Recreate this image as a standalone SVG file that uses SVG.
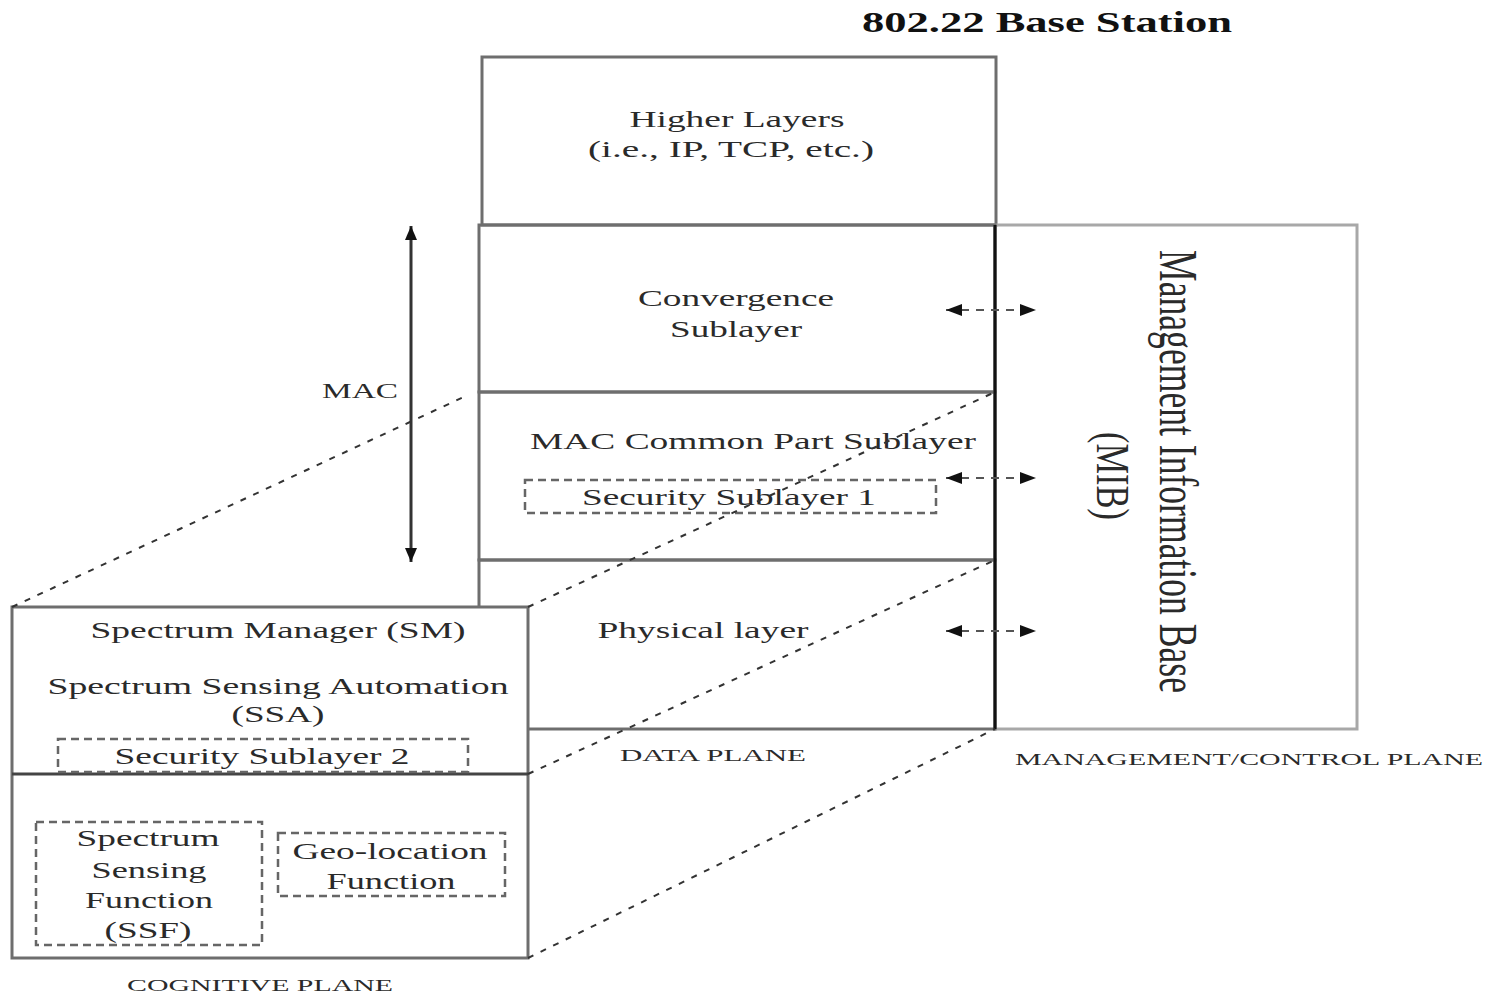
<svg xmlns="http://www.w3.org/2000/svg" width="1489" height="995" viewBox="0 0 1489 995">
<defs>
<style>
.t{font-family:"Liberation Serif","Times New Roman",serif;font-size:24px;fill:#2a2a2a;text-anchor:middle}
.s{font-size:17px}
.box{fill:none;stroke:#6e6e6e;stroke-width:3}
.lbox{fill:none;stroke:#a8a8a8;stroke-width:3}
.dbox{fill:none;stroke:#666;stroke-width:2.5;stroke-dasharray:8 5}
.diag{fill:none;stroke:#333;stroke-width:2;stroke-dasharray:6 8}
.dar{fill:none;stroke:#555;stroke-width:2;stroke-dasharray:8 7;marker-start:url(#ah);marker-end:url(#ah)}
</style>
<marker id="ah" viewBox="0 0 16 12" refX="16" refY="6" markerWidth="16" markerHeight="12" markerUnits="userSpaceOnUse" orient="auto-start-reverse">
<path d="M0,0 L16,6 L0,12 z" fill="#111"/>
</marker>
<marker id="ah2" viewBox="0 0 14 12" refX="14" refY="6" markerWidth="14" markerHeight="12" markerUnits="userSpaceOnUse" orient="auto-start-reverse">
<path d="M0,0 L14,6 L0,12 z" fill="#111"/>
</marker>
</defs>
<rect width="1489" height="995" fill="#fff"/>

<text class="t" x="1047" y="32" style="font-size:30px;font-weight:bold;fill:#111" textLength="370" lengthAdjust="spacingAndGlyphs">802.22 Base Station</text>

<g id="higher-layers">
<rect class="box" x="482" y="57" width="514" height="168"/>
<text class="t" x="737" y="127" textLength="215" lengthAdjust="spacingAndGlyphs">Higher Layers</text>
<text class="t" x="731" y="157" textLength="286" lengthAdjust="spacingAndGlyphs">(i.e., IP, TCP, etc.)</text>
</g>

<g id="mib">
<rect class="lbox" x="995" y="225" width="362" height="504"/>
<text class="t" transform="translate(1160,250) rotate(90)" x="0" y="0" style="font-size:54px;text-anchor:start" textLength="443" lengthAdjust="spacingAndGlyphs">Management Information Base</text>
<text class="t" transform="translate(1097,432) rotate(90)" x="0" y="0" style="font-size:46px;text-anchor:start" textLength="88" lengthAdjust="spacingAndGlyphs">(MIB)</text>
</g>

<g id="convergence">
<rect class="box" x="479" y="225" width="516" height="167"/>
<text class="t" x="736" y="306" textLength="196" lengthAdjust="spacingAndGlyphs">Convergence</text>
<text class="t" x="736" y="337" textLength="132" lengthAdjust="spacingAndGlyphs">Sublayer</text>
</g>

<g id="mac-cps">
<rect class="box" x="479" y="392" width="516" height="168"/>
<text class="t" x="753" y="449" textLength="446" lengthAdjust="spacingAndGlyphs">MAC Common Part Sublayer</text>
</g>

<g id="security-1">
<rect class="dbox" x="525" y="480" width="411" height="33"/>
<text class="t" x="729" y="505" textLength="294" lengthAdjust="spacingAndGlyphs">Security Sublayer 1</text>
</g>

<g id="physical">
<rect class="box" x="479" y="560" width="516" height="169"/>
<text class="t" x="703" y="638" textLength="211" lengthAdjust="spacingAndGlyphs">Physical layer</text>
</g>

<line x1="995" y1="225" x2="995" y2="729" stroke="#111" stroke-width="3"/>

<g id="mac-label">
<text class="t" x="360" y="398" style="font-size:22px" textLength="76" lengthAdjust="spacingAndGlyphs">MAC</text>
</g>

<g id="cognitive">
<rect class="box" x="12" y="607" width="516" height="351" style="fill:#fff"/>
<line x1="12" y1="774" x2="528" y2="774" stroke="#444" stroke-width="3"/>
<text class="t" x="278" y="638" textLength="375" lengthAdjust="spacingAndGlyphs">Spectrum Manager (SM)</text>
<text class="t" x="278" y="694" textLength="461" lengthAdjust="spacingAndGlyphs">Spectrum Sensing Automation</text>
<text class="t" x="278" y="722" textLength="93" lengthAdjust="spacingAndGlyphs">(SSA)</text>
</g>

<g id="security-2">
<rect class="dbox" x="58" y="739" width="410" height="33"/>
<text class="t" x="262" y="764" textLength="295" lengthAdjust="spacingAndGlyphs">Security Sublayer 2</text>
</g>

<g id="ssf">
<rect class="dbox" x="36" y="822" width="226" height="123"/>
<text class="t" x="148" y="846" textLength="143" lengthAdjust="spacingAndGlyphs">Spectrum</text>
<text class="t" x="149" y="878" textLength="115" lengthAdjust="spacingAndGlyphs">Sensing</text>
<text class="t" x="149" y="908" textLength="128" lengthAdjust="spacingAndGlyphs">Function</text>
<text class="t" x="148" y="938" textLength="87" lengthAdjust="spacingAndGlyphs">(SSF)</text>
</g>

<g id="geo">
<rect class="dbox" x="278" y="833" width="227" height="63"/>
<text class="t" x="390" y="859" textLength="195" lengthAdjust="spacingAndGlyphs">Geo-location</text>
<text class="t" x="391" y="889" textLength="129" lengthAdjust="spacingAndGlyphs">Function</text>
</g>

<g id="plane-labels">
<text class="t s" x="260" y="991" textLength="266" lengthAdjust="spacingAndGlyphs">COGNITIVE PLANE</text>
<text class="t s" x="713" y="761" textLength="186" lengthAdjust="spacingAndGlyphs">DATA PLANE</text>
<text class="t s" x="1249" y="765" textLength="468" lengthAdjust="spacingAndGlyphs">MANAGEMENT/CONTROL PLANE</text>
</g>

<g id="connectors">
<line class="diag" x1="12" y1="607" x2="468" y2="395"/>
<line class="diag" x1="528" y1="607" x2="995" y2="392"/>
<line class="diag" x1="528" y1="774" x2="995" y2="560"/>
<line class="diag" x1="528" y1="958" x2="995" y2="729"/>
<line class="dar" x1="946" y1="310" x2="1036" y2="310"/>
<line class="dar" x1="946" y1="478" x2="1036" y2="478"/>
<line class="dar" x1="946" y1="631" x2="1036" y2="631"/>
<line x1="411" y1="226" x2="411" y2="562" stroke="#333" stroke-width="3" marker-start="url(#ah2)" marker-end="url(#ah2)"/>
</g>
</svg>
